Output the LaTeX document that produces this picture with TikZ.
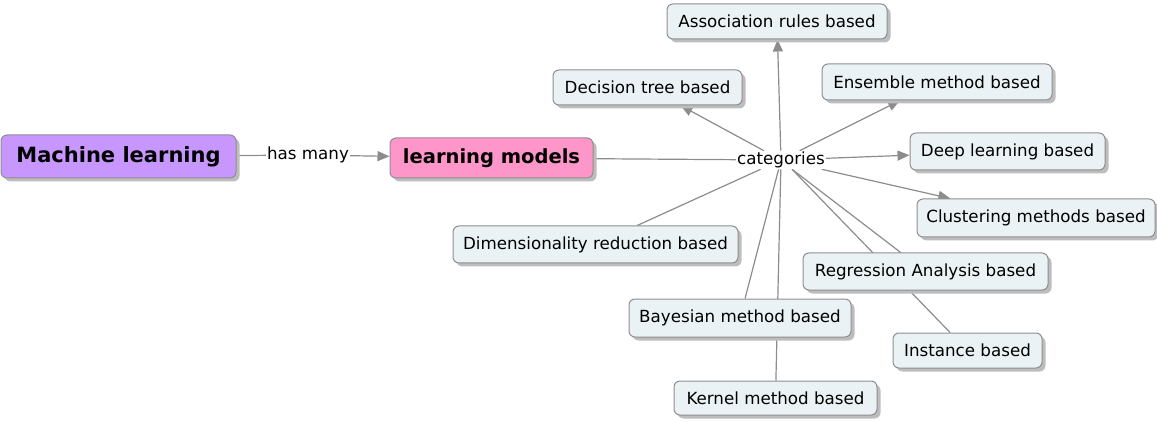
\documentclass[tikz,border=0pt]{standalone}
\usepackage{fontspec}
\setmainfont{DejaVu Sans}
\usetikzlibrary{shadows,arrows.meta,backgrounds,calc}
\definecolor{lineg}{HTML}{8C8C8C}
\definecolor{boxfill}{HTML}{EBF2F5}
\definecolor{boxdraw}{HTML}{8E8E8E}
\definecolor{mlfill}{HTML}{C896FF}
\definecolor{lmfill}{HTML}{FF96CA}
\definecolor{shadowg}{HTML}{BDBDBD}
\tikzset{
  concept/.style={draw=boxdraw, line width=1pt, fill=boxfill, rounded corners=6pt,
    inner sep=0pt, align=center, font=\fontsize{16.7}{19}\selectfont,
    drop shadow={shadow xshift=3.5pt, shadow yshift=-3.5pt, fill=shadowg, opacity=1}},
  main/.style={concept, font=\bfseries\fontsize{20}{23}\selectfont},
  lab/.style={inner sep=1pt, font=\fontsize{16.7}{19}\selectfont, fill=white},
  conn/.style={draw=lineg, line width=1.2pt},
  arr/.style={conn, -{Triangle[length=12pt,width=10pt]}, color=lineg}
}
\begin{document}
\begin{tikzpicture}[x=1pt,y=-1pt]
\useasboundingbox (0,0) rectangle (1157,422);
% main concepts
\node[main, fill=mlfill, minimum width=235pt, minimum height=43pt, font=\bfseries\fontsize{21}{24}\selectfont] (ml) at (118.5,156.5) {Machine learning};
\node[main, fill=lmfill, minimum width=203pt, minimum height=40pt, font=\bfseries\fontsize{19.5}{22}\selectfont] (lm) at (491.5,158) {learning models};
\node[lab] (has) at (308,155) {has many};
\node[lab] (cat) at (781,160) {categories};
\coordinate (catse) at ($(cat.south)+(11,0)$);
% categories
\node[concept, minimum width=220pt, minimum height=35pt] (assoc) at (777,21.5) {Association rules based};
\node[concept, minimum width=189pt, minimum height=35pt] (dec) at (647.5,87.5) {Decision tree based};
\node[concept, minimum width=230pt, minimum height=36pt] (ens) at (937,82) {Ensemble method based};
\node[concept, minimum width=195pt, minimum height=37pt] (deep) at (1007.5,151.5) {Deep learning based};
\node[concept, minimum width=238pt, minimum height=38pt] (clu) at (1036,218) {Clustering methods based};
\node[concept, minimum width=285pt, minimum height=37pt] (dim) at (595.5,244.5) {Dimensionality reduction based};
\node[concept, minimum width=245pt, minimum height=37pt] (reg) at (925.5,271.5) {Regression Analysis based};
\node[concept, minimum width=222pt, minimum height=38pt] (bay) at (740,318) {Bayesian method based};
\node[concept, minimum width=149pt, minimum height=35pt] (inst) at (967.5,350.5) {Instance based};
\node[concept, minimum width=203pt, minimum height=34pt] (ker) at (775.5,398) {Kernel method based};
% connectors
\begin{scope}[on background layer]
\draw[conn] (ml) -- (has);
\draw[arr] (has) -- (lm);
\draw[conn] (lm) -- (cat);
\draw[arr] (cat) -- (assoc);
\draw[arr] (cat) -- (dec);
\draw[arr] (cat) -- (ens);
\draw[arr] (cat) -- (deep);
\draw[arr] (cat) -- (clu);
\draw[conn] (cat) -- (dim);
\draw[conn] (catse) -- (reg);
\draw[conn] (catse) -- (inst);
\draw[conn] (cat) -- (bay);
\draw[conn] (cat) -- (ker);
\end{scope}
\end{tikzpicture}
\end{document}
